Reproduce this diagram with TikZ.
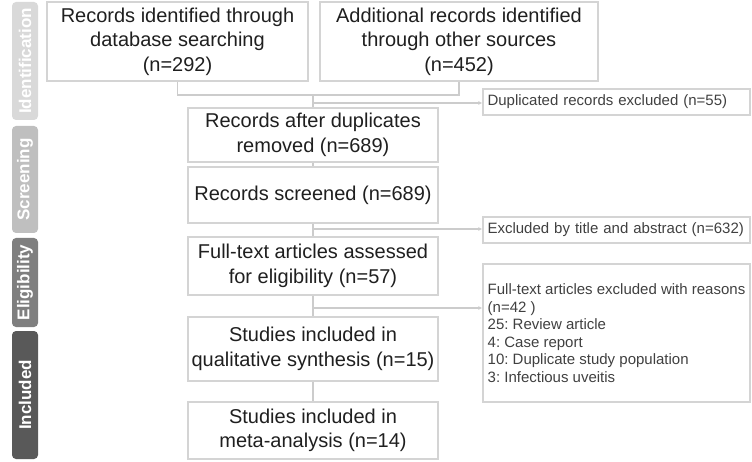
\documentclass[tikz,border=0pt]{standalone}
\usepackage{fontspec}
\setmainfont{Liberation Sans}
\usetikzlibrary{arrows.meta}
\definecolor{boxline}{HTML}{D4D4D4}
\definecolor{linkline}{HTML}{CCCCCC}
\definecolor{maintext}{HTML}{1F1F1F}
\definecolor{notetext}{HTML}{404040}
\definecolor{idgray}{HTML}{D9D9D9}
\definecolor{scrgray}{HTML}{BFBFBF}
\definecolor{elggray}{HTML}{7F7F7F}
\definecolor{incgray}{HTML}{595959}
\frenchspacing

\begin{document}
\begin{tikzpicture}[x=1pt,y=-1pt,
	mainbox/.style={draw=boxline, line width=1.2pt, text=maintext, align=center, inner sep=0pt, font=\fontsize{20}{24.5}\selectfont},
	notebox/.style={draw=boxline, line width=1.2pt, text=notetext, inner sep=0pt, align=left, font=\fontsize{15}{17.5}\selectfont},
	stagebar/.style={rotate=90, fill=#1, rounded corners=4pt, minimum height=26pt, inner sep=0pt, text=white, font=\fontsize{17}{18}\selectfont\bfseries},
	link/.style={draw=linkline, line width=1.2pt},
	linkarrow/.style={link, -{Latex[length=4pt,width=4pt]}}]
	\useasboundingbox (0,0) rectangle (752,462);
	% stages
	\node[stagebar=idgray, minimum width=118pt] (stid) at (25,61) {Identification};
	\node[stagebar=scrgray, minimum width=107pt] (stscr) at (25,179.5) {Screening};
	\node[stagebar=elggray, minimum width=89pt] (stelg) at (25,282.5) {Eligibility};
	\node[stagebar=incgray, minimum width=128pt] (stinc) at (25,395) {Included};
	% main boxes
	\node[mainbox, minimum width=261pt, minimum height=79pt] (dbrec) at (177.5,41.5) {Records identified through\\database searching\\(n=292)};
	\node[mainbox, minimum width=278pt, minimum height=79pt] (othrec) at (459,41.5) {Additional records identified\\through other sources\\(n=452)};
	\node[mainbox, minimum width=250pt, minimum height=54pt] (afterdup) at (313,135) {Records after duplicates\\removed (n=689)};
	\node[mainbox, minimum width=250pt, minimum height=56pt] (screened) at (313,195) {Records screened (n=689)};
	\node[mainbox, minimum width=250pt, minimum height=58pt] (fulltext) at (313,266) {Full-text articles assessed\\for eligibility (n=57)};
	\node[mainbox, minimum width=250pt, minimum height=64pt] (qualsyn) at (313,349) {Studies included in\\qualitative synthesis (n=15)};
	\node[mainbox, minimum width=250pt, minimum height=57pt] (metaan) at (313,430.5) {Studies included in\\meta-analysis (n=14)};
	% excluded boxes
	\node[notebox, text width=258pt, inner xsep=4.5pt, minimum height=26pt] (dupex) at (616.5,102) {Duplicated records excluded (n=55)};
	\node[notebox, text width=258pt, inner xsep=4.5pt, minimum height=26pt] (titleex) at (616.5,230) {Excluded by title and abstract (n=632)};
	\node[notebox, minimum width=267pt, minimum height=138pt] (fullex) at (616.5,333) {Full-text articles excluded with reasons\\(n=42 )\\25: Review article\\4: Case report\\10: Duplicate study population\\3: Infectious uveitis};
	% connectors
	\coordinate (joinid) at (313,95);
	\coordinate (brdup) at (313,103);
	\coordinate (brtitle) at (313,229);
	\coordinate (brfull) at (313,308);
	\draw[link] (dbrec.south) |- (joinid);
	\draw[link] (othrec.south) |- (joinid);
	\draw[link] (joinid) -- (afterdup.north);
	\draw[linkarrow] (brdup) -- (brdup -| dupex.west);
	\draw[link] (afterdup.south) -- (screened.north);
	\draw[link] (screened.south) -- (fulltext.north);
	\draw[linkarrow] (brtitle) -- (brtitle -| titleex.west);
	\draw[link] (fulltext.south) -- (qualsyn.north);
	\draw[linkarrow] (brfull) -- (brfull -| fullex.west);
	\draw[link] (qualsyn.south) -- (metaan.north);
\end{tikzpicture}
\end{document}
